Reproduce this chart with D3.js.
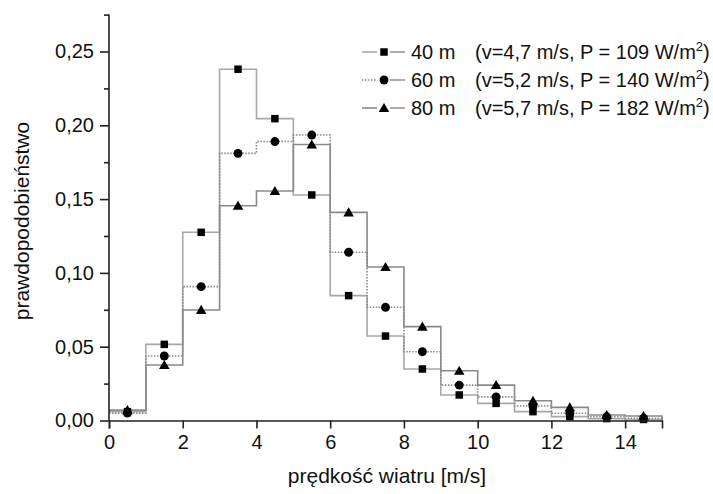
<!DOCTYPE html>
<html><head><meta charset="utf-8">
<script src="https://cdn.jsdelivr.net/npm/d3@7"></script>
<style>body{margin:0;background:#fff}svg{display:block}text{font-family:"Liberation Sans",Arial,sans-serif;fill:#111}</style>
</head><body><svg id="c" width="713" height="494"></svg>
<script>
const bins = [0.5,1.5,2.5,3.5,4.5,5.5,6.5,7.5,8.5,9.5,10.5,11.5,12.5,13.5,14.5];
const v40 = [0.006,0.0516,0.1275,0.238,0.2045,0.1528,0.0846,0.0572,0.0349,0.0173,0.0116,0.006,0.0026,0.0013,0.0007];
const v60 = [0.005,0.0437,0.0907,0.181,0.189,0.1934,0.114,0.0767,0.0466,0.024,0.016,0.0098,0.0049,0.0025,0.0015];
const v80 = [0.007,0.0376,0.0749,0.1455,0.1555,0.187,0.141,0.104,0.0636,0.0337,0.024,0.0134,0.0089,0.0037,0.003];
const seriesNames = ["40 m","60 m","80 m"];
const seriesNotes = ["(v=4,7 m/s, P = 109 W/m","(v=5,2 m/s, P = 140 W/m","(v=5,7 m/s, P = 182 W/m"];
const xTicks = [0,2,4,6,8,10,12,14];
const yTicks = [0,0.05,0.10,0.15,0.20,0.25];
const yMinor = [0.025,0.075,0.125,0.175,0.225,0.275];

const svg = d3.select("#c");
const x = d3.scaleLinear().domain([0,15]).range([109,662]);
const y = d3.scaleLinear().domain([0,0.275]).range([420.5,14.6]);
const fmt = d => d3.format(".2f")(d).replace(".",",");

const styles = [
  {stroke:"#a8a8a8", dash:null, sym:d3.symbolSquare, size:56},
  {stroke:"#888", dash:"1.5,1.5", sym:d3.symbolCircle, size:62},
  {stroke:"#8a8a8a", dash:null, sym:d3.symbolTriangle, size:48}
];
const data = [v40,v60,v80];

data.forEach((vals,i)=>{
  let p = d3.path();
  vals.forEach((v,j)=>{
    const x0 = x(bins[j]-0.5), x1 = x(bins[j]+0.5);
    if(j===0) p.moveTo(x0,y(v)); else p.lineTo(x0,y(v));
    p.lineTo(x1,y(v));
  });
  p.lineTo(x(15), y(0));
  svg.append("path").attr("d",p.toString()).attr("fill","none")
    .attr("stroke",styles[i].stroke).attr("stroke-width",1.6)
    .attr("stroke-dasharray",styles[i].dash);
});
data.forEach((vals,i)=>{
  svg.append("g").selectAll("path").data(vals).join("path")
    .attr("d",d3.symbol(styles[i].sym, styles[i].size))
    .attr("transform",(v,j)=>`translate(${x(bins[j])},${y(v)+(i===2?1:0)})`)
    .attr("fill","#000");
});

// axes
const gx = svg.append("g").attr("transform",`translate(0,${y(0)})`)
  .call(d3.axisBottom(x).tickValues(xTicks).tickSize(8).tickPadding(6).tickFormat(d3.format("d")));
const gy = svg.append("g").attr("transform",`translate(${x(0)},0)`)
  .call(d3.axisLeft(y).tickValues(yTicks).tickSize(9).tickPadding(6).tickFormat(fmt));
svg.append("g").attr("transform",`translate(${x(0)},0)`)
  .call(d3.axisLeft(y).tickValues(yMinor).tickSize(5).tickFormat(""))
  .select(".domain").remove();
[gx,gy].forEach(g=>{
  g.select(".domain").attr("stroke","#222").attr("stroke-width",1.6);
  g.selectAll("text").style("font-size","20px").attr("fill","#111")
   .style("font-family",'"Liberation Sans",Arial,sans-serif');
});
gy.select(".domain").attr("d",`M0,${y(0.275)}V${y(0)}`);
svg.selectAll(".tick line").attr("stroke","#222").attr("stroke-width",1.6);

// axis titles
svg.append("text").attr("x",387).attr("y",483).attr("text-anchor","middle")
  .style("font-size","21px").text("prędkość wiatru [m/s]");
svg.append("text").attr("transform","translate(29,221) rotate(-90)").attr("text-anchor","middle")
  .style("font-size","21px").text("prawdopodobieństwo");

// legend
const ly = [52,80,108];
seriesNames.forEach((n,i)=>{
  const g = svg.append("g");
  g.append("line").attr("x1",362).attr("x2",377).attr("y1",ly[i]).attr("y2",ly[i])
    .attr("stroke",styles[i].stroke).attr("stroke-width",1.6).attr("stroke-dasharray",styles[i].dash);
  g.append("line").attr("x1",390).attr("x2",405).attr("y1",ly[i]).attr("y2",ly[i])
    .attr("stroke","#999").attr("stroke-width",1.6);
  g.append("path").attr("d",d3.symbol(styles[i].sym,styles[i].size))
    .attr("transform",`translate(384,${ly[i]+(i===2?1:0)})`).attr("fill","#000");
  g.append("text").attr("x",411).attr("y",ly[i]+7).style("font-size","20px").text(n);
  const t = g.append("text").attr("x",475).attr("y",ly[i]+7).style("font-size","20px");
  t.append("tspan").text(seriesNotes[i]);
  t.append("tspan").attr("dy",-8).style("font-size","13px").text("2");
  t.append("tspan").attr("dy",8).text(")");
});
</script></body></html>
